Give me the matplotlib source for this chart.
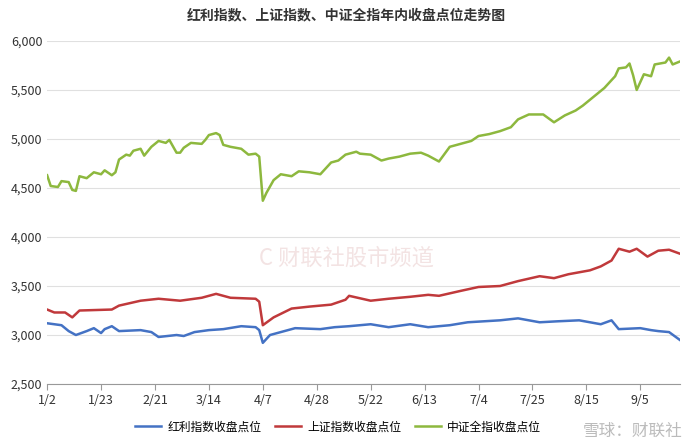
import matplotlib
matplotlib.use("Agg")
import matplotlib.pyplot as plt

plt.rcParams['font.family'] = ['Noto Sans CJK SC', 'DejaVu Sans']

tick_days = [0, 15, 30, 45, 60, 75, 90, 105, 120, 135, 150, 165]
tick_labels = ["1/2", "1/23", "2/21", "3/14", "4/7", "4/28", "5/22", "6/13", "7/4", "7/25", "8/15", "9/5"]

green_days = [0,1,3,4,6,7,8,9,11,13,15,16,18,19,20,22,23,24,26,27,29,31,33,34,36,37,38,40,43,44,45,47,48,49,51,54,56,58,59,60,61,63,65,68,70,73,76,79,81,83,86,87,90,93,95,98,101,104,106,109,112,115,118,120,123,126,129,131,134,138,141,144,147,149,152,155,158,159,161,162,163,164,166,168,169,172,173,174,176]
green_vals = [4630,4520,4510,4570,4560,4480,4470,4620,4600,4660,4640,4680,4630,4660,4790,4840,4830,4880,4900,4830,4920,4980,4960,4990,4860,4860,4910,4960,4950,4990,5040,5060,5040,4940,4920,4900,4840,4850,4820,4370,4450,4580,4640,4620,4670,4660,4640,4760,4780,4840,4870,4850,4840,4780,4800,4820,4850,4860,4830,4770,4920,4950,4980,5030,5050,5080,5120,5200,5250,5250,5170,5240,5290,5340,5430,5520,5640,5720,5730,5770,5650,5500,5660,5640,5760,5780,5830,5760,5790]

red_days = [0,2,5,7,9,18,20,26,31,37,43,47,51,58,59,60,63,68,73,79,83,84,90,95,101,106,109,115,120,126,131,137,141,145,151,154,157,159,162,164,167,170,173,176]
red_vals = [3260,3230,3230,3180,3250,3260,3300,3350,3370,3350,3380,3420,3380,3370,3340,3100,3180,3270,3290,3310,3360,3400,3350,3370,3390,3410,3400,3450,3490,3500,3550,3600,3580,3620,3660,3700,3760,3880,3850,3880,3800,3860,3870,3830]

blue_days = [0,4,6,8,11,13,15,16,18,20,26,29,31,36,38,41,45,49,54,58,59,60,62,65,69,76,80,84,90,95,101,106,112,117,126,131,137,142,148,154,157,159,165,168,170,173,176]
blue_vals = [3120,3100,3040,3000,3040,3070,3020,3060,3090,3040,3050,3030,2980,3000,2990,3030,3050,3060,3090,3080,3050,2920,3000,3030,3070,3060,3080,3090,3110,3080,3110,3080,3100,3130,3150,3170,3130,3140,3150,3110,3150,3060,3070,3050,3040,3030,2950]

fig = plt.figure(figsize=(6.93, 4.45), dpi=100)
ax = fig.add_axes([0.068, 0.137, 0.913, 0.771])
ax.plot(blue_days, blue_vals, color='#4472C4', lw=1.8, label='红利指数收盘点位')
ax.plot(red_days, red_vals, color='#C0393B', lw=1.8, label='上证指数收盘点位')
ax.plot(green_days, green_vals, color='#8DB83E', lw=1.8, label='中证全指收盘点位')
ax.set_xlim(0, 176)
ax.set_ylim(2500, 6000)
ax.set_yticks(range(2500, 6001, 500))
ax.set_yticklabels([f"{v:,}" for v in range(2500, 6001, 500)])
ax.set_xticks(tick_days)
ax.set_xticklabels(tick_labels)
ax.tick_params(axis='both', labelsize=9, length=0, colors='#333333')
ax.tick_params(axis='x', length=4, color='#999999')
ax.grid(axis='y', color='#e0e0e0', lw=0.8)
for s in ['top', 'right', 'left']:
    ax.spines[s].set_visible(False)
ax.spines['bottom'].set_color('#999999')
fig.text(0.5, 0.965, '红利指数、上证指数、中证全指年内收盘点位走势图', ha='center', va='center', fontsize=10, fontweight='bold', color='#333333')
fig.text(0.5, 0.42, 'C 财联社股市频道', ha='center', va='center', fontsize=16, color='#f3e3e3')
ax.legend(loc='upper center', bbox_to_anchor=(0.46, -0.075), ncol=3, frameon=False, fontsize=8.5,
          handlelength=2.2, columnspacing=1.2, handletextpad=0.5)
fig.text(0.985, 0.03, '雪球：财联社', ha='right', va='center', fontsize=12, color='#bbbbbb')
fig.savefig('out.png')
